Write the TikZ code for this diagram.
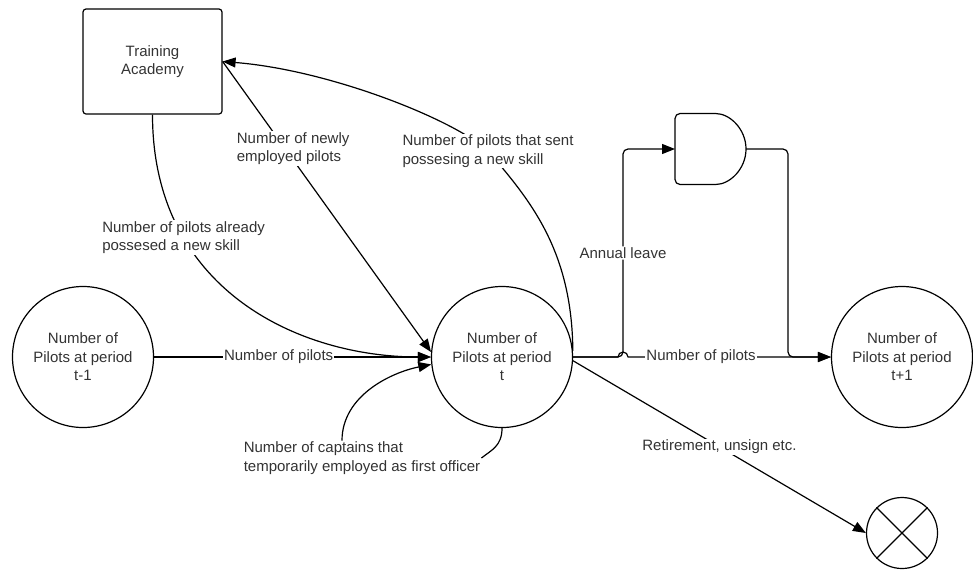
\documentclass[tikz,border=0pt]{standalone}
\usepackage{fontspec}
\setmainfont{Liberation Sans}
\usetikzlibrary{arrows.meta,positioning,calc}

\begin{document}
\begin{tikzpicture}[x=1pt, y=-1pt, line join=round,
  every node/.style={font=\fontsize{15}{18.5}\selectfont, text=black!80},
  stock/.style={circle, draw, line width=1.2pt, minimum size=141pt, inner sep=0pt, align=center},
  flow/.style={line width=1.2pt, -{Triangle[length=13pt,width=10pt]}},
  lbl/.style={fill=white, inner sep=1pt, align=left}]
\useasboundingbox (0,0) rectangle (973,571);
% stocks
\node[draw, line width=1.2pt, rounded corners=3pt, minimum width=139pt, minimum height=105pt,
      align=center] (academy) at (152.5,61.5) {Training\\Academy};
\node[stock] (prev) at (83,357)  {Number of\\Pilots at period\\t-1};
\node[stock] (mid)  at (502,357) {Number of\\Pilots at period\\t};
\node[stock] (next) at (902,357) {Number of\\Pilots at period\\t+1};
\node[circle, draw, line width=1.2pt, minimum size=71pt, inner sep=0pt] (sink) at (902,533) {};
\draw[line width=1.2pt] (sink.45)--(sink.225) (sink.135)--(sink.315);
% and gate
\coordinate (gate)     at (710.5,149);
\coordinate (gate in)  at ($(gate)+(-35.5,0)$);
\coordinate (gate out) at ($(gate)+(35.5,0)$);
\draw[line width=1.2pt, rounded corners=5pt] (gate in) -- ++(0,-35.5) -- ++(35.5,0)
  arc[start angle=-90, end angle=90, radius=35.5] -- ++(-35.5,0) -- cycle;
\coordinate (hop)  at (623,357);  % annual leave branch
\coordinate (drop) at (788,149);  % gate output bend
\coordinate (sent) at (488,151);  % label on return curve
% flows
\draw[flow] (prev.east) -- node[lbl, pos=.45] {Number of pilots} (mid.west);
\draw[flow] (academy.south) .. controls +(0,176) and (300,357) .. (mid.west)
  node[lbl, pos=.28] {Number of pilots already\\possesed a new skill};
\draw[flow] (academy.east) -- (mid.176)
  node[lbl, pos=.3, xshift=8pt] {Number of newly\\employed pilots};
\draw[flow] (mid.5) .. controls (572,250) and (530,200) .. (sent)
  node[lbl] {Number of pilots that sent\\possesing a new skill}
  .. controls (455,120) and (330,70) .. (academy.east);
\node[lbl] (capt) at (362,458) {Number of captains that\\temporarily employed as first officer};
\draw[line width=1.2pt] (mid.south) .. controls +(0,18) and +(10,-8) .. (capt.east);
\draw[flow] ([xshift=-20pt]capt.north) .. controls +(0,-45) and +(-40,8) .. (mid.186);
\draw[flow] (mid.east) -- ($(hop)+(-5,0)$) arc[start angle=180, end angle=360, radius=5]
  -- (next.west) node[lbl, pos=.36] {Number of pilots};
\draw[flow, rounded corners=5pt] (mid.east) -- (hop) -- (hop |- gate in)
  node[lbl, midway] {Annual leave} -- (gate in);
\draw[flow, rounded corners=5pt] (gate out) -- (drop) -- (drop |- next.west) -- (next.west);
\draw[flow] (mid.-3) -- (sink.west) node[lbl, midway] {Retirement, unsign etc.};
\end{tikzpicture}
\end{document}
